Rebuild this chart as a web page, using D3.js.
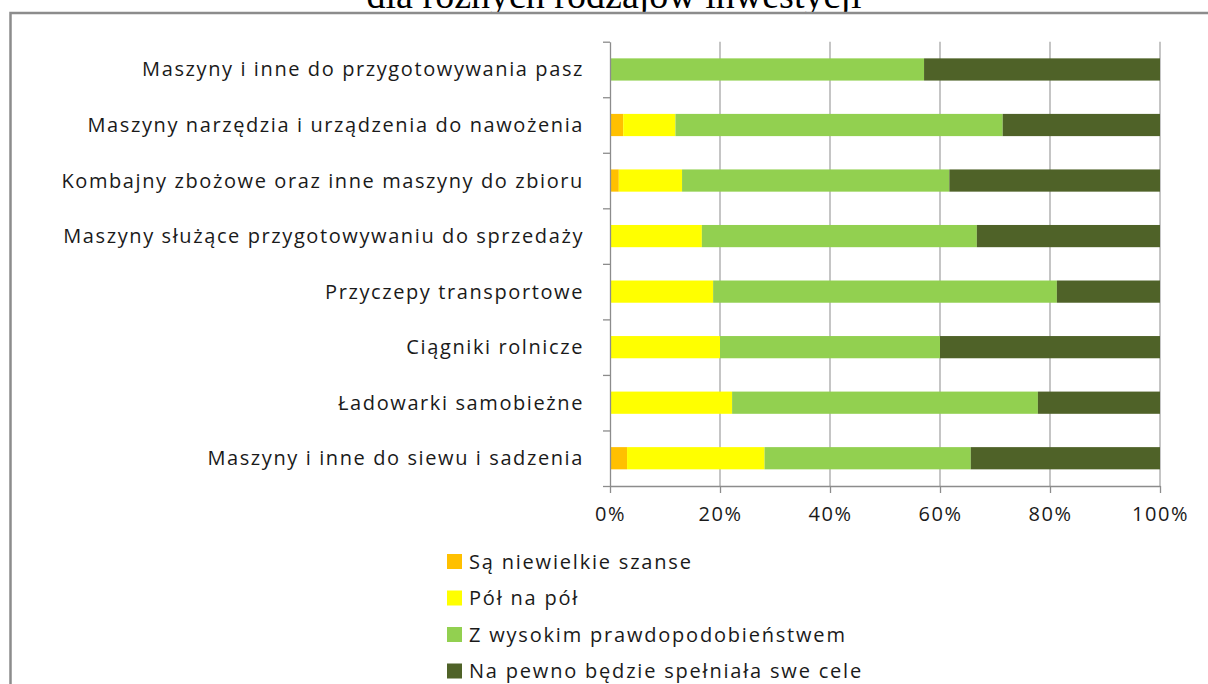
<!DOCTYPE html>
<html>
<head>
<meta charset="utf-8">
<script src="https://cdn.jsdelivr.net/npm/d3@7/dist/d3.min.js"></script>
<style>
  html, body { margin: 0; padding: 0; background: #fff; }
  svg { display: block; }
</style>
</head>
<body>
<svg id="chart" width="1208" height="684"></svg>
<script>
// Categories (top to bottom)
const categories = [
  "Maszyny i inne do przygotowywania pasz",
  "Maszyny narzędzia i urządzenia do nawożenia",
  "Kombajny zbożowe oraz inne maszyny do zbioru",
  "Maszyny służące przygotowywaniu do sprzedaży",
  "Przyczepy transportowe",
  "Ciągniki rolnicze",
  "Ładowarki samobieżne",
  "Maszyny i inne do siewu i sadzenia"
];

// Series names (legend order) and shares in percent
const seriesNames = [
  "Są niewielkie szanse",
  "Pół na pół",
  "Z wysokim prawdopodobieństwem",
  "Na pewno będzie spełniała swe cele"
];
const smallChance = [0, 2.4, 1.6, 0, 0, 0, 0, 3.1];
const halfHalf    = [0, 9.5, 11.5, 16.7, 18.75, 20, 22.2, 25.0];
const highProb    = [57.1, 59.5, 48.6, 50.0, 62.5, 40, 55.6, 37.5];
const certain     = [42.9, 28.6, 38.3, 33.3, 18.75, 40, 22.2, 34.4];
const seriesColors = ["#FFC000", "#FFFF00", "#92D050", "#4F6228"];

const xTicks = [0, 20, 40, 60, 80, 100];
const titleText = "dla różnych rodzajów inwestycji";

const svg = d3.select("#chart");
const font = "'Open Sans', Lato, sans-serif";
const textColor = "#1a1a1a";

// Title (upper part runs off the top edge)
svg.append("text")
  .attr("x", 614).attr("y", 8)
  .attr("text-anchor", "middle")
  .attr("font-family", "'Liberation Serif', 'Times New Roman', serif")
  .attr("font-size", 38)
  .attr("fill", "#000")
  .text(titleText);

// Chart frame
svg.append("rect")
  .attr("x", 10.5).attr("y", 13)
  .attr("width", 1210).attr("height", 700)
  .attr("fill", "#fff")
  .attr("stroke", "#8c8c8c")
  .attr("stroke-width", 2.5);

const plotTop = 41.7, plotBottom = 486, plotLeft = 610, plotRight = 1160;

const x = d3.scaleLinear().domain([0, 100]).range([plotLeft, plotRight]);
const y = d3.scaleBand().domain(categories).range([plotTop, plotBottom])
  .paddingInner(0.6).paddingOuter(0.3);
const yEdge = d3.scaleLinear().domain([0, categories.length]).range([plotTop, plotBottom]);

// Vertical gridlines
svg.append("g")
  .selectAll("line")
  .data(xTicks.filter(d => d > 0))
  .join("line")
  .attr("x1", d => x(d)).attr("x2", d => x(d))
  .attr("y1", plotTop).attr("y2", plotBottom)
  .attr("stroke", "#a6a6a6").attr("stroke-width", 1.3);

// Stacked bars
const rows = categories.map((c, i) => ({
  cat: c,
  vals: [smallChance[i], halfHalf[i], highProb[i], certain[i]]
}));
const stack = d3.stack().keys([0, 1, 2, 3]).value((d, k) => d.vals[k]);
const layers = stack(rows);

svg.append("g")
  .selectAll("g")
  .data(layers)
  .join("g")
  .attr("fill", (d, i) => seriesColors[i])
  .selectAll("rect")
  .data(d => d.filter(s => s[1] - s[0] > 0))
  .join("rect")
  .attr("x", d => x(d[0]))
  .attr("width", d => x(d[1]) - x(d[0]))
  .attr("y", d => y(d.data.cat))
  .attr("height", y.bandwidth());

// Y axis: line with ticks at category boundaries
const yAxis = svg.append("g")
  .attr("transform", `translate(${plotLeft},0)`)
  .call(d3.axisLeft(yEdge).tickValues(d3.range(categories.length + 1)).tickFormat("").tickSize(7).tickSizeOuter(0));
yAxis.selectAll("line, path").attr("stroke", "#8c8c8c").attr("stroke-width", 1.3);

// Category labels
svg.append("g")
  .selectAll("text")
  .data(categories)
  .join("text")
  .attr("x", 584)
  .attr("y", d => y(d) + y.bandwidth() / 2)
  .attr("dy", "0.35em")
  .attr("text-anchor", "end")
  .attr("font-family", font)
  .attr("font-size", 20)
  .attr("letter-spacing", "1.6px")
  .attr("fill", textColor)
  .text(d => d);

// X axis
const xAxis = svg.append("g")
  .attr("transform", `translate(0,${plotBottom})`)
  .call(d3.axisBottom(x).tickValues(xTicks).tickFormat(d => d + "%").tickSize(7).tickSizeOuter(0).tickPadding(14));
xAxis.selectAll("line, path").attr("stroke", "#8c8c8c").attr("stroke-width", 1.3);
xAxis.selectAll("text")
  .attr("font-family", font)
  .attr("font-size", 20)
  .attr("letter-spacing", "1.6px")
  .attr("fill", textColor);

// Legend
const legend = svg.append("g").attr("transform", "translate(447,0)");
const legendY = d3.scalePoint().domain(seriesNames).range([561.5, 671]);
const item = legend.selectAll("g")
  .data(seriesNames)
  .join("g")
  .attr("transform", d => `translate(0,${legendY(d)})`);
item.append("rect")
  .attr("x", 0).attr("y", -7.5)
  .attr("width", 15).attr("height", 15)
  .attr("fill", (d, i) => seriesColors[i]);
item.append("text")
  .attr("x", 22).attr("y", 0)
  .attr("dy", "0.35em")
  .attr("font-family", font)
  .attr("font-size", 20)
  .attr("letter-spacing", "1.8px")
  .attr("fill", textColor)
  .text(d => d);
</script>
</body>
</html>
